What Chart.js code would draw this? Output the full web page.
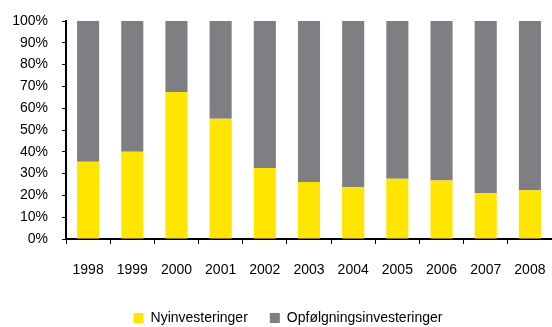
<!DOCTYPE html>
<html>
<head>
<meta charset="utf-8">
<script src="https://cdn.jsdelivr.net/npm/chart.js@4/dist/chart.umd.min.js"></script>
<style>
  html, body { margin: 0; padding: 0; background: #fff; }
  #wrap { width: 552px; height: 327px; }
</style>
</head>
<body>
<div id="wrap"><canvas id="andele"></canvas></div>
<script>
const years = ['1998', '1999', '2000', '2001', '2002', '2003', '2004', '2005', '2006', '2007', '2008']
// andel af investeringerne i procent
const nyinvesteringer = [35.4, 40, 67.4, 55.2, 32.6, 26.1, 23.9, 27.6, 26.8, 21.0, 22.4]
const opfoelgning = [64.6, 60, 32.6, 44.8, 67.4, 73.9, 76.1, 72.4, 73.2, 79.0, 77.6]
const yTicks = [0, 10, 20, 30, 40, 50, 60, 70, 80, 90, 100]

const YELLOW = '#ffe500'
const GREY = '#7f7e83'

Chart.defaults.font.family = '"Liberation Sans", Arial, sans-serif'
Chart.defaults.font.size = 14
Chart.defaults.color = '#000'

// skub forklaringen lidt mod højre
const legendShift = {
    id: 'legendShift',
    afterLayout: chart => { chart.legend.left = 24 }
}

const ctx = document.getElementById('andele').getContext('2d')
new Chart(ctx, {
    type: 'bar',
    data: {
        labels: years,
        datasets: [
            { label: 'Nyinvesteringer', data: nyinvesteringer, backgroundColor: YELLOW },
            { label: 'Opfølgningsinvesteringer', data: opfoelgning, backgroundColor: GREY }
        ]
    },
    plugins: [legendShift],
    options: {
        responsive: true,
        maintainAspectRatio: false,
        animation: false,
        layout: { padding: { top: 21, right: 0, left: 0, bottom: -8 } },
        datasets: { bar: { barPercentage: 0.5, categoryPercentage: 1 } },
        plugins: {
            tooltip: { enabled: false },
            legend: {
                position: 'bottom',
                labels: { boxWidth: 10, boxHeight: 10, padding: 22, color: '#000' }
            }
        },
        scales: {
            x: {
                stacked: true,
                border: { color: '#000', width: 2 },
                grid: { drawOnChartArea: false, color: '#000', tickLength: 5, lineWidth: 1 },
                ticks: { padding: 18, maxRotation: 0 },
                afterFit: s => {
                    s.height = 50
                    s.paddingLeft = 0
                    s.paddingRight = 0
                }
            },
            y: {
                stacked: true,
                min: 0,
                max: 100,
                afterBuildTicks: s => { s.ticks = yTicks.map(v => ({ value: v })) },
                border: { color: '#000', width: 2 },
                grid: { drawOnChartArea: false, color: '#000', tickLength: 4, lineWidth: 1 },
                ticks: { padding: 14, callback: v => v + '%' },
                afterFit: s => {
                    s.width = 66
                    s.paddingTop = 0
                    s.paddingBottom = 0
                }
            }
        }
    }
})
</script>
</body>
</html>
